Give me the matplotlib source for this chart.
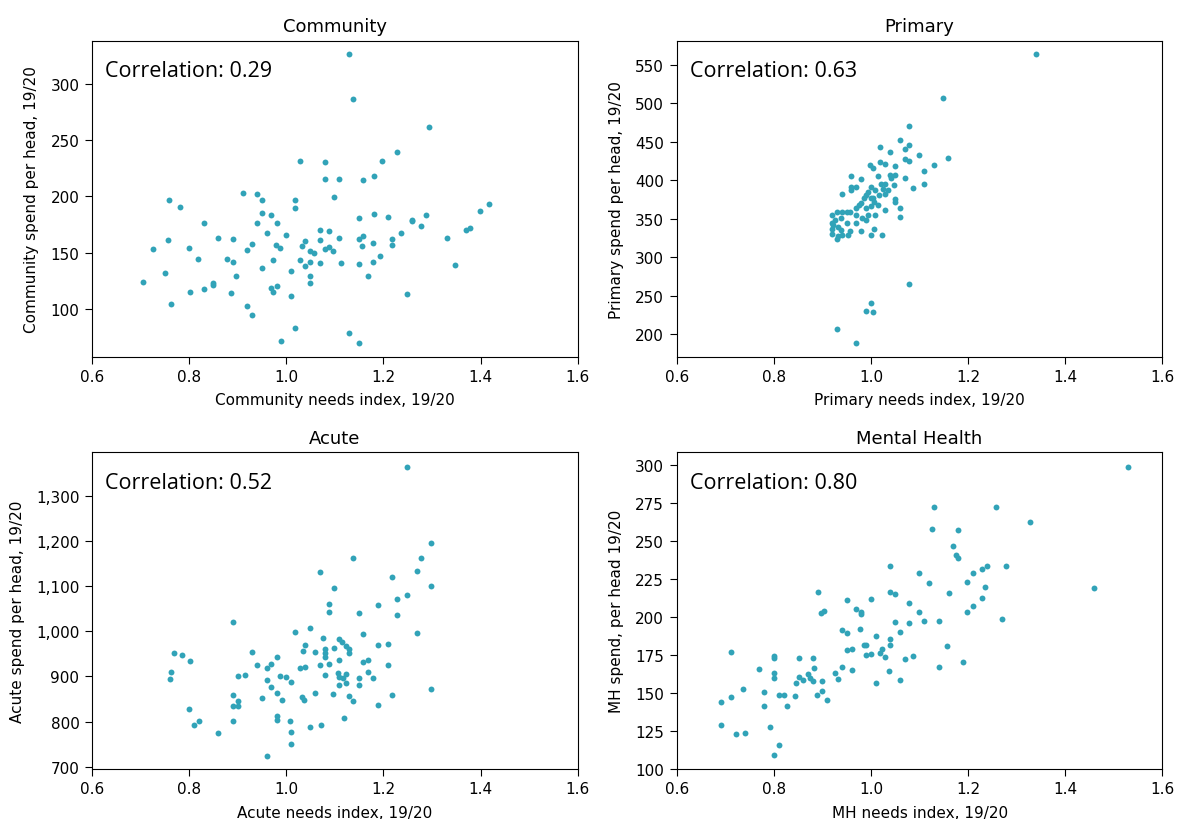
import matplotlib
matplotlib.use("Agg")
import matplotlib.pyplot as plt
import matplotlib.ticker as ticker

# ── Data ──────────────────────────────────────────────────────────────────

community_x = [1.129, 1.138, 1.293, 1.228, 1.029, 1.079, 1.198, 1.181, 1.079, 1.109,
               1.158, 0.910, 0.940, 0.950, 0.758, 1.019, 1.099, 1.418, 0.781, 1.019,
               1.398, 0.950, 0.969, 1.180, 1.149, 1.209, 1.288, 1.258, 1.258, 0.830,
               0.940, 0.980, 1.278, 1.378, 1.369, 1.069, 1.089, 0.960, 1.000, 1.237,
               1.159, 1.149, 0.757, 0.860, 0.890, 1.109, 1.069, 1.038, 1.218, 1.331,
               1.218, 1.179, 1.155, 0.978, 1.033, 0.930, 0.987, 0.725, 0.800, 0.920,
               1.079, 1.089, 1.097, 1.049, 1.058, 0.819, 0.879, 0.890, 0.973, 1.029,
               1.049, 1.069, 1.113, 1.149, 1.179, 1.193, 1.348, 1.038, 0.950, 1.010,
               0.751, 0.897, 1.049, 1.169, 0.705, 0.850, 0.850, 1.049, 0.830, 0.801,
               0.886, 0.969, 0.980, 0.973, 1.009, 1.248, 0.763, 0.920, 0.930, 1.019,
               0.989, 1.129, 1.149]
community_y = [326.0, 286.4, 261.3, 239.4, 231.4, 230.9, 231.7, 217.9, 215.2, 215.2,
               214.3, 203.1, 201.9, 196.9, 196.6, 196.9, 199.2, 193.3, 190.4, 189.5,
               187.1, 185.3, 183.3, 184.2, 180.9, 181.5, 183.6, 179.4, 178.3, 176.8,
               176.5, 176.5, 173.8, 172.0, 170.3, 170.6, 169.4, 167.6, 166.1, 167.6,
               165.2, 162.6, 161.4, 163.2, 162.6, 162.9, 161.1, 160.2, 162.3, 162.9,
               157.3, 158.5, 156.1, 157.3, 156.4, 158.2, 154.3, 153.7, 154.6, 152.8,
               153.7, 154.9, 152.0, 151.4, 149.6, 144.3, 144.6, 141.6, 143.7, 143.4,
               141.6, 141.0, 141.0, 140.1, 142.2, 147.5, 139.5, 138.1, 136.6, 134.0,
               132.2, 129.2, 129.5, 129.8, 124.2, 123.3, 121.8, 123.3, 118.3, 115.0,
               114.1, 118.9, 120.6, 115.0, 112.1, 113.5, 104.4, 102.9, 95.2, 83.4,
               71.6, 79.0, 69.8]

primary_x = [1.339, 1.149, 1.079, 1.059, 1.079, 1.019, 1.069, 1.039, 1.099, 1.159,
             1.069, 1.079, 1.129, 1.019, 1.029, 0.997, 1.004, 1.049, 1.109, 0.959,
             0.980, 1.015, 1.038, 1.049, 1.069, 1.109, 1.086, 0.959, 0.969, 0.959,
             1.000, 1.020, 1.029, 1.048, 0.940, 0.993, 0.989, 1.009, 1.029, 1.049,
             1.049, 0.985, 1.000, 1.007, 0.980, 0.969, 0.989, 0.999, 1.029, 1.059,
             1.059, 1.009, 0.920, 0.930, 0.940, 0.950, 0.957, 0.969, 0.981, 0.989,
             0.969, 0.920, 0.950, 0.931, 0.920, 0.939, 0.957, 0.980, 1.006, 1.000,
             1.022, 0.920, 0.932, 0.941, 0.930, 0.925, 1.003, 1.017, 1.034, 0.993,
             1.078, 1.000, 0.989, 1.005, 0.930, 0.969, 0.976, 1.014, 1.024, 0.939,
             0.952, 0.922, 1.041]
primary_y = [563.4, 506.8, 470.0, 451.9, 445.8, 442.8, 440.2, 436.8, 433.3, 428.6,
             427.7, 424.7, 420.3, 423.4, 421.2, 420.3, 416.0, 418.2, 411.3, 404.8,
             401.8, 405.2, 406.1, 406.5, 402.6, 395.3, 389.7, 391.4, 391.4, 387.1,
             391.8, 394.8, 394.8, 393.5, 382.7, 384.9, 380.6, 387.1, 382.3, 375.8,
             371.9, 376.3, 377.1, 371.9, 369.8, 364.2, 364.2, 366.3, 360.7, 363.3,
             352.5, 354.2, 354.2, 358.5, 358.9, 358.9, 358.5, 354.6, 350.3, 347.7,
             344.7, 344.7, 343.8, 339.5, 336.5, 335.2, 333.9, 333.9, 336.1, 329.2,
             328.3, 330.0, 327.4, 328.3, 323.5, 348.2, 376.3, 380.6, 387.1, 354.2,
             265.6, 240.9, 230.6, 228.4, 207.3, 188.7, 367.6, 367.6, 389.2, 350.3,
             328.7, 341.7, 402.2]

acute_x = [1.248, 1.298, 1.278, 1.138, 1.069, 1.269, 1.218, 1.099, 1.298, 1.248,
           1.228, 1.089, 1.089, 1.188, 1.149, 1.228, 0.890, 1.019, 1.049, 1.159,
           1.269, 1.075, 1.109, 1.114, 1.039, 1.035, 1.059, 1.079, 1.079, 1.079,
           1.099, 1.124, 1.129, 1.129, 1.188, 1.209, 0.768, 0.785, 0.801, 0.930,
           0.980, 0.969, 0.940, 0.960, 1.029, 1.039, 1.069, 1.089, 1.109, 1.159,
           1.169, 1.209, 0.763, 0.760, 0.900, 0.915, 1.079, 1.106, 1.122, 1.109,
           1.117, 1.169, 1.149, 1.179, 0.988, 0.999, 1.009, 0.961, 0.969, 1.109,
           1.124, 1.149, 0.980, 0.890, 0.900, 0.890, 0.900, 0.950, 0.991, 1.033,
           1.037, 1.059, 1.096, 1.129, 1.138, 1.218, 1.298, 1.188, 0.800, 0.810,
           0.820, 0.890, 0.980, 0.980, 1.007, 1.009, 1.049, 1.071, 1.119, 0.860,
           1.009, 0.960]
acute_y = [1362.7, 1196.0, 1161.3, 1162.1, 1131.1, 1132.6, 1119.3, 1096.5, 1100.9, 1081.0,
           1070.6, 1061.0, 1043.3, 1058.1, 1041.1, 1036.7, 1021.2, 998.4, 1006.5, 993.9,
           996.2, 985.1, 982.9, 975.5, 970.3, 957.1, 953.4, 960.8, 951.9, 942.3,
           963.7, 966.6, 960.8, 951.9, 968.9, 971.1, 952.6, 947.5, 934.2, 954.1,
           942.3, 928.3, 924.6, 918.7, 918.7, 920.2, 924.6, 926.8, 936.4, 932.7,
           937.1, 925.4, 909.1, 895.1, 901.8, 902.5, 903.2, 907.7, 904.7, 898.1,
           896.6, 909.1, 895.8, 895.8, 901.8, 898.8, 887.7, 892.2, 877.4, 881.9,
           885.5, 881.9, 864.1, 859.7, 846.4, 834.6, 835.4, 851.6, 847.9, 854.5,
           848.6, 862.7, 860.4, 856.0, 846.4, 859.0, 872.3, 837.6, 828.7, 793.3,
           800.7, 802.2, 813.3, 803.7, 802.2, 777.1, 788.9, 791.9, 808.8, 774.2,
           750.6, 723.3]

mh_x = [1.528, 1.129, 1.258, 1.328, 1.125, 1.179, 1.169, 1.174, 1.179, 1.039,
        1.228, 1.239, 1.278, 1.099, 1.209, 1.119, 1.198, 1.234, 1.458, 0.890,
        1.039, 1.049, 1.161, 0.950, 1.000, 1.228, 1.079, 1.209, 0.969, 0.980,
        0.980, 0.898, 0.903, 1.099, 1.198, 1.269, 1.049, 1.079, 1.109, 1.139,
        0.940, 0.950, 0.978, 1.010, 1.059, 1.039, 1.039, 0.985, 0.990, 1.156,
        0.950, 0.960, 1.022, 1.019, 0.989, 0.999, 1.029, 1.069, 1.087, 0.711,
        0.800, 0.800, 0.851, 0.880, 0.770, 0.800, 0.800, 0.883, 0.851, 0.860,
        0.870, 0.874, 0.880, 0.846, 0.900, 0.925, 0.931, 0.940, 0.960, 1.037,
        1.059, 1.010, 1.139, 1.189, 0.736, 0.711, 0.691, 0.780, 0.780, 0.811,
        0.820, 0.826, 0.844, 0.889, 0.900, 0.910, 0.691, 0.721, 0.740, 0.791,
        0.811, 0.800]
mh_y = [298.5, 272.3, 272.3, 262.5, 257.9, 257.0, 246.3, 240.6, 238.5, 233.4,
        231.5, 233.2, 233.2, 228.6, 228.6, 222.3, 222.8, 219.9, 218.8, 216.4,
        216.2, 215.1, 215.6, 210.8, 211.6, 212.1, 209.0, 207.3, 205.3, 203.3,
        201.8, 202.7, 203.6, 203.1, 203.1, 198.3, 196.8, 195.7, 197.2, 197.4,
        191.6, 189.2, 192.0, 187.6, 189.8, 185.2, 181.7, 181.7, 181.3, 181.1,
        178.0, 178.7, 179.1, 176.1, 174.8, 175.8, 173.7, 172.3, 174.1, 176.9,
        174.3, 172.8, 173.0, 173.0, 165.6, 163.0, 159.5, 166.2, 160.4, 158.8,
        162.1, 159.9, 157.7, 156.6, 157.5, 163.2, 159.0, 167.1, 164.9, 164.3,
        158.4, 156.4, 166.7, 170.6, 152.7, 147.3, 144.0, 150.3, 141.6, 148.3,
        148.3, 141.1, 147.7, 148.6, 151.2, 145.5, 128.9, 122.8, 123.5, 127.6,
        116.0, 109.5]

titles = ["Community", "Primary", "Acute", "Mental Health"]
correlations = ["0.29", "0.63", "0.52", "0.80"]
x_labels = ["Community needs index, 19/20", "Primary needs index, 19/20",
            "Acute needs index, 19/20", "MH needs index, 19/20"]
y_labels = ["Community spend per head, 19/20", "Primary spend per head, 19/20",
            "Acute spend per head, 19/20", "MH spend, per head 19/20"]

# ── Display config ────────────────────────────────────────────────────────

POINT_COLOR = "#31a3b8"
# axes rectangles in figure fractions
AX_RECTS = [
    [0.078, 0.564, 0.412, 0.385],
    [0.574, 0.564, 0.412, 0.385],
    [0.078, 0.061, 0.412, 0.386],
    [0.574, 0.061, 0.412, 0.386],
]
Y_LIMS = [(58, 338), (171, 581), (695, 1396), (100, 308)]
Y_STEPS = [50, 50, 100, 25]

fig = plt.figure(figsize=(11.79, 8.2), dpi=100)

series = [
    (community_x, community_y),
    (primary_x, primary_y),
    (acute_x, acute_y),
    (mh_x, mh_y),
]

for i, (xs, ys) in enumerate(series):
    ax = fig.add_axes(AX_RECTS[i])
    ax.scatter(xs, ys, s=18, color=POINT_COLOR, linewidths=0, zorder=3)

    ax.set_xlim(0.6, 1.6)
    ax.set_ylim(*Y_LIMS[i])
    ax.xaxis.set_major_locator(ticker.MultipleLocator(0.2))
    ax.xaxis.set_major_formatter(ticker.FormatStrFormatter("%.1f"))
    ax.yaxis.set_major_locator(ticker.MultipleLocator(Y_STEPS[i]))
    ax.yaxis.set_major_formatter(ticker.FuncFormatter(lambda v, _: f"{v:,.0f}"))
    ax.tick_params(labelsize=11, length=5, pad=4)

    ax.set_title(titles[i], fontsize=13, pad=7)
    ax.set_xlabel(x_labels[i], fontsize=11, labelpad=6)
    ax.set_ylabel(y_labels[i], fontsize=11, labelpad=8)

    ax.text(0.027, 0.905, f"Correlation: {correlations[i]}",
            transform=ax.transAxes, ha="left", va="center",
            fontsize=15.5, family=["Open Sans", "DejaVu Sans"])

fig.savefig("out.png", dpi=100)
